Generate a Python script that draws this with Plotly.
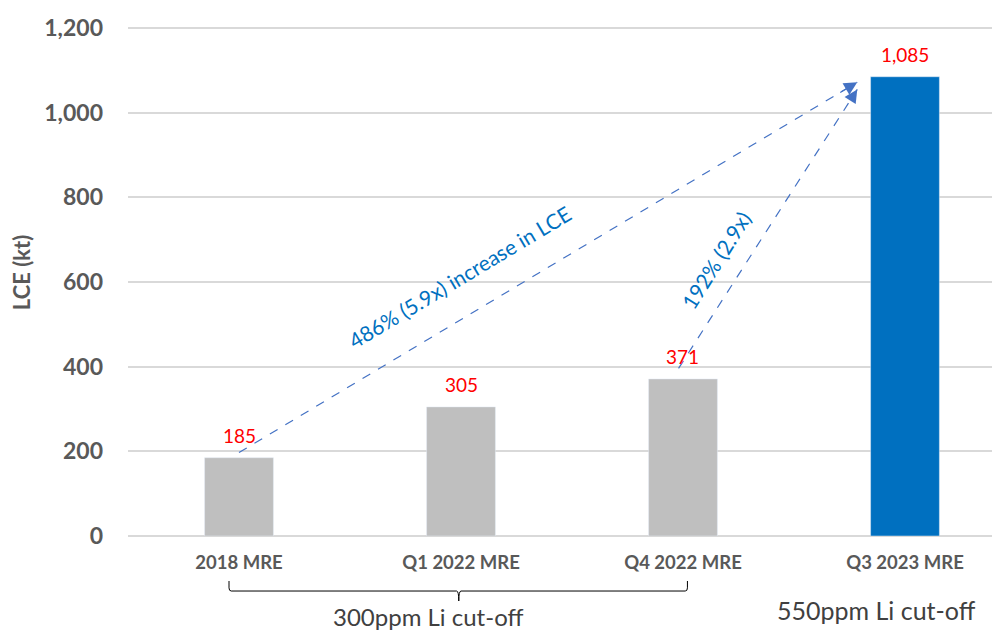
import plotly.graph_objects as go

categories = ["2018 MRE", "Q1 2022 MRE", "Q4 2022 MRE", "Q3 2023 MRE"]
values = [185, 305, 371, 1085]
value_labels = ["185", "305", "371", "1,085"]
bar_colors = ["#BFBFBF", "#BFBFBF", "#BFBFBF", "#0070C0"]
y_ticks = [0, 200, 400, 600, 800, 1000, 1200]
y_tick_labels = ["0", "200", "400", "600", "800", "1,000", "1,200"]

FONT = "Lato"
GRID = "#D9D9D9"
ARROW = "#4472C4"
TXT = "#0070C0"

fig = go.Figure()
fig.add_trace(go.Bar(
    x=list(range(len(categories))), y=values, marker_color=bar_colors,
    width=0.31, showlegend=False, hoverinfo="skip",
))

annotations = []
for i, (v, lab) in enumerate(zip(values, value_labels)):
    annotations.append(dict(x=i, y=v, text=lab, showarrow=False, yanchor="bottom",
                            yshift=9, font=dict(family=FONT, size=19, color="#FF0000")))

# dashed arrows
arrows = [((0, values[0] + 12), (2.785, values[3] - 13)),
          ((1.98, values[2] + 25), (2.785, values[3] - 30))]
for (x0, y0), (x1, y1) in arrows:
    fig.add_trace(go.Scatter(x=[x0, x1], y=[y0, y1], mode="lines",
                             line=dict(color=ARROW, width=1.2, dash="dash"),
                             showlegend=False, hoverinfo="skip"))
    t = 0.97
    annotations.append(dict(x=x1, y=y1, ax=x0 + (x1 - x0) * t, ay=y0 + (y1 - y0) * t,
                            xref="x", yref="y", axref="x", ayref="y", text="",
                            showarrow=True, arrowhead=2, arrowsize=2.2, arrowwidth=1.2,
                            arrowcolor=ARROW))

annotations.append(dict(x=0.995, y=614, text="486% (5.9x) increase in LCE", showarrow=False,
                        textangle=-31, font=dict(family=FONT, size=21, color=TXT)))
annotations.append(dict(x=2.15, y=653, text="192% (2.9x)", showarrow=False,
                        textangle=-58, font=dict(family=FONT, size=21, color=TXT)))

# bottom texts
annotations.append(dict(x=0.85, y=-0.184, xref="x", yref="paper", text="300ppm Li cut-off",
                        showarrow=False, font=dict(family=FONT, size=24, color="#404040")))
annotations.append(dict(x=2.87, y=-0.173, xref="x", yref="paper", text="550ppm Li cut-off",
                        showarrow=False, font=dict(family=FONT, size=25, color="#404040")))

# bracket
xl, xr, xc = -0.045, 2.02, 0.99
yt, yh, yb = -0.0854, -0.1044, -0.1233
r = 0.01
path = (f"M {xl},{yt} L {xl},{yh+0.006} Q {xl},{yh} {xl+r},{yh} "
        f"L {xc-r},{yh} Q {xc},{yh} {xc},{yb} Q {xc},{yh} {xc+r},{yh} "
        f"L {xr-r},{yh} Q {xr},{yh} {xr},{yh+0.006} L {xr},{yt}")
fig.add_shape(type="path", path=path, xref="x", yref="paper",
              line=dict(color="#000000", width=1))

fig.update_layout(
    width=1000, height=633,
    margin=dict(l=120, r=0, t=1, b=105),
    plot_bgcolor="white", paper_bgcolor="white",
    annotations=annotations,
    xaxis=dict(range=[-0.5, 3.464], tickvals=list(range(len(categories))), ticktext=categories,
               showgrid=False, zeroline=False, showline=False, automargin=False,
               ticks="", ticklabelstandoff=13,
               tickfont=dict(family=FONT, size=18.5, color="#595959", weight="bold")),
    yaxis=dict(range=[0, 1245], tickvals=y_ticks, ticktext=y_tick_labels,
               showgrid=True, gridcolor=GRID, gridwidth=1.5, zeroline=True,
               zerolinecolor=GRID, zerolinewidth=1.5, showline=False, automargin=False,
               ticks="", ticklabelstandoff=24,
               tickfont=dict(family=FONT, size=23, color="#595959", weight="bold"),
               title=dict(text="LCE (kt)", standoff=11,
                          font=dict(family=FONT, size=22, color="#595959", weight="bold"))),
)

fig.write_html("out.html")
